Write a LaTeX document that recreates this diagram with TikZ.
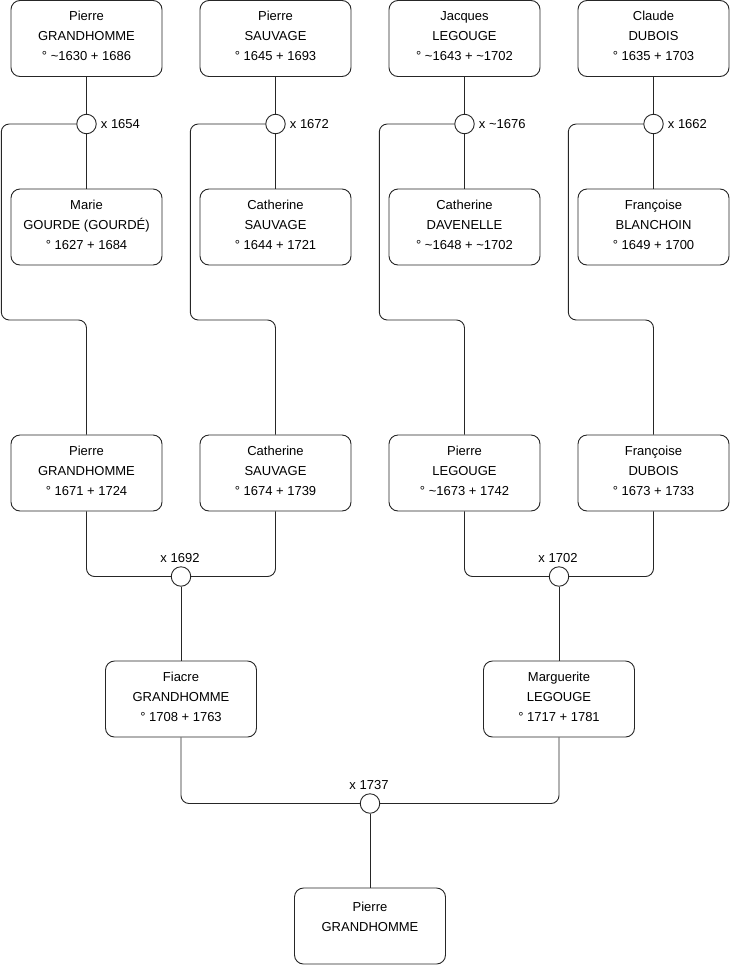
\documentclass[tikz,border=0pt]{standalone}
\usepackage{fontspec}
\setmainfont{Liberation Sans}
\usetikzlibrary{calc}
\newcommand{\tl}{\textasciitilde}
\newcommand{\pbox}[2]{\parbox[c][76pt][t]{151pt}{\centering\fontsize{13}{20}\selectfont\rule{0pt}{#1}#2}}
\tikzset{
  person/.style={draw=black!85, line width=0.9pt, rounded corners=9pt, inner sep=0pt, fill=white},
  wed/.style={circle, draw=black!85, line width=0.9pt, minimum size=19.5pt, inner sep=0pt, fill=white},
  link/.style={draw=black!85, line width=0.9pt, rounded corners=8pt},
  wlab/.style={inner sep=0pt, font=\fontsize{13}{16}\selectfont}
}
\begin{document}
\begin{tikzpicture}[x=1pt,y=-1pt]
\useasboundingbox (0,0) rectangle (740,975);
% row 1
\node[person] (p11) at (86.5,38.5) {\pbox{20pt}{Pierre\\GRANDHOMME\\° \tl1630 + 1686}};
\node[person] (p12) at (275.5,38.5) {\pbox{20pt}{Pierre\\SAUVAGE\\° 1645 + 1693}};
\node[person] (p13) at (464.5,38.5) {\pbox{20pt}{Jacques\\LEGOUGE\\° \tl1643 + \tl1702}};
\node[person] (p14) at (653.5,38.5) {\pbox{20pt}{Claude\\DUBOIS\\° 1635 + 1703}};
% row 2
\node[person] (p21) at (86.5,227) {\pbox{20pt}{Marie\\GOURDE (GOURDÉ)\\° 1627 + 1684}};
\node[person] (p22) at (275.5,227) {\pbox{20pt}{Catherine\\SAUVAGE\\° 1644 + 1721}};
\node[person] (p23) at (464.5,227) {\pbox{20pt}{Catherine\\DAVENELLE\\° \tl1648 + \tl1702}};
\node[person] (p24) at (653.5,227) {\pbox{20pt}{Françoise\\BLANCHOIN\\° 1649 + 1700}};
% row 3
\node[person] (p31) at (86.5,473) {\pbox{20pt}{Pierre\\GRANDHOMME\\° 1671 + 1724}};
\node[person] (p32) at (275.5,473) {\pbox{20pt}{Catherine\\SAUVAGE\\° 1674 + 1739}};
\node[person] (p33) at (464.5,473) {\pbox{20pt}{Pierre\\LEGOUGE\\° \tl1673 + 1742}};
\node[person] (p34) at (653.5,473) {\pbox{20pt}{Françoise\\DUBOIS\\° 1673 + 1733}};
% row 4
\node[person] (p41) at (181,699) {\pbox{20pt}{Fiacre\\GRANDHOMME\\° 1708 + 1763}};
\node[person] (p42) at (559,699) {\pbox{20pt}{Marguerite\\LEGOUGE\\° 1717 + 1781}};
% row 5
\node[person] (p5) at (370,926) {\pbox{23pt}{Pierre\\GRANDHOMME}};
% marriages
\node[wed] (m1) at (86.5,124) {};
\node[wed] (m2) at (275.5,124) {};
\node[wed] (m3) at (464.5,124) {};
\node[wed] (m4) at (653.5,124) {};
\node[wed] (m5) at (181,576.5) {};
\node[wed] (m6) at (559,576.5) {};
\node[wed] (m7) at (370,803.5) {};
% marriage labels
\node[wlab, anchor=west] (l1) at ($(m1.east)+(4,0)$) {x 1654};
\node[wlab, anchor=west] (l2) at ($(m2.east)+(4,0)$) {x 1672};
\node[wlab, anchor=west] (l3) at ($(m3.east)+(4,0)$) {x \tl1676};
\node[wlab, anchor=west] (l4) at ($(m4.east)+(4,0)$) {x 1662};
\node[wlab, anchor=base] (l5) at ($(m5.north)+(-1,-4)$) {x 1692};
\node[wlab, anchor=base] (l6) at ($(m6.north)+(-1,-4)$) {x 1702};
\node[wlab, anchor=base] (l7) at ($(m7.north)+(-1,-4)$) {x 1737};
% connectors top couples
\foreach \i in {1,2,3,4}{
  \draw[link] (p1\i.south) -- (m\i.north);
  \draw[link] (m\i.south) -- (p2\i.north);
  \draw[link] (m\i.west) -| ++(-75,196) -| (p3\i.north);
}
% row 3 couples
\draw[link] (p31.south) |- (m5.west);
\draw[link] (p32.south) |- (m5.east);
\draw[link] (m5.south) -- (p41.north);
\draw[link] (p33.south) |- (m6.west);
\draw[link] (p34.south) |- (m6.east);
\draw[link] (m6.south) -- (p42.north);
% row 4 couple
\draw[link] (p41.south) |- (m7.west);
\draw[link] (p42.south) |- (m7.east);
\draw[link] (m7.south) -- (p5.north);
\end{tikzpicture}
\end{document}
